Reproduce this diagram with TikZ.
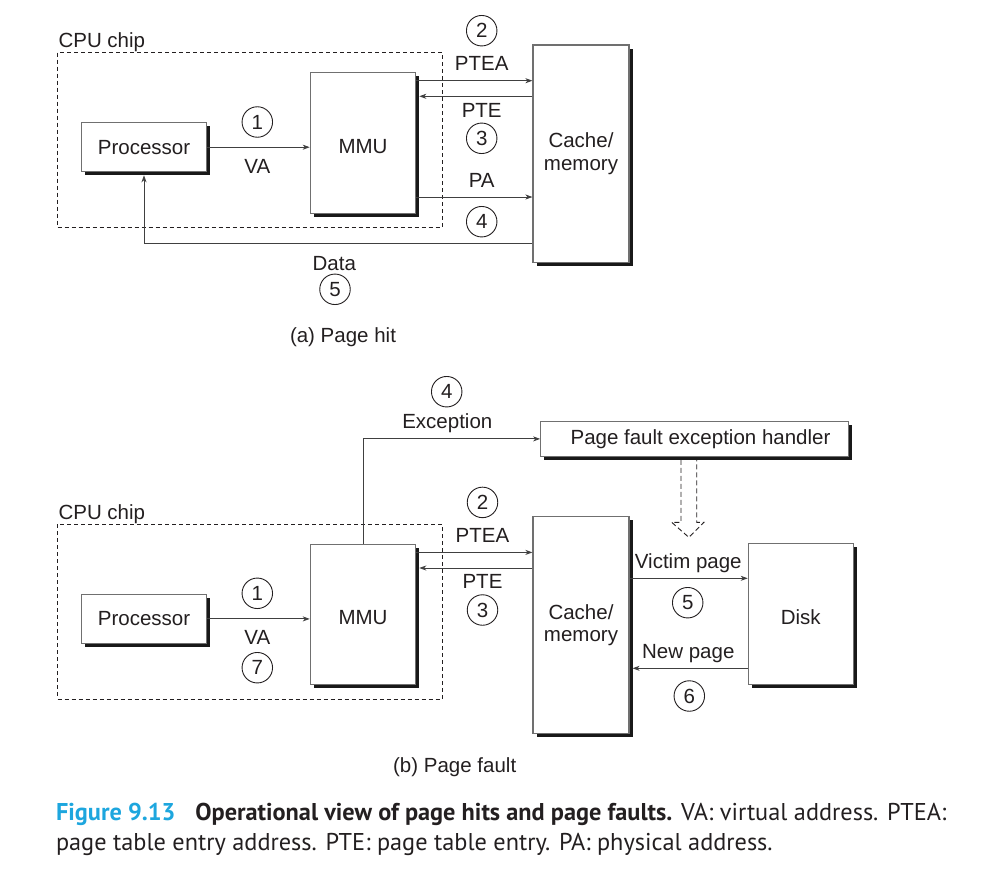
\documentclass[tikz,border=0pt]{standalone}
\usepackage{fontspec}
\setmainfont{Liberation Sans}
\newfontfamily\capfont{PT Sans}
\usetikzlibrary{arrows.meta,shadows}
\definecolor{textdark}{HTML}{231F20}
\definecolor{boxgray}{HTML}{707070}
\definecolor{linegray}{HTML}{404040}
\definecolor{figcyan}{HTML}{1DA6DE}
\tikzset{
  unit/.style={draw=boxgray, line width=1.1pt, fill=white, inner sep=0pt, align=center,
    drop shadow={shadow xshift=3.5pt, shadow yshift=-3.5pt, fill=black!90, opacity=1}},
  tallunit/.style={unit, text height=21pt},
  link/.style={draw=linegray, line width=0.9pt, -{Stealth[length=7pt,width=5pt,inset=2pt]}},
  stepnum/.style={circle, draw=textdark, line width=0.9pt, minimum size=30.5pt, inner sep=0pt},
  chip/.style={draw=textdark, line width=0.8pt, dash pattern=on 4pt off 3pt},
  hollow/.style={draw=textdark, line width=0.9pt, dash pattern=on 5pt off 3pt},
  captext/.style={anchor=base west, font=\capfont\fontsize{24.3}{30}\selectfont}
}
\begin{document}
\begin{tikzpicture}[x=1pt, y=-1pt, font=\fontsize{20.5}{22.5}\selectfont, text=textdark]
\useasboundingbox (0,0) rectangle (982,880);
% (a) page hit
\draw[chip] (57.3,52.7) rectangle (442.3,227.3);
\node[anchor=base west] (chipa) at (55,48) {CPU chip};
\node[unit, minimum width=125.4pt, minimum height=49pt] (proca) at (144,147.2) {Processor};
\node[tallunit, minimum width=105.4pt, minimum height=141pt] (mmua) at (363,142.8) {MMU};
\node[unit, minimum width=96pt, minimum height=217.3pt] (cachea) at (581,153.7) {Cache/\\memory};
\draw[link] (proca.east) -- (mmua.west |- proca.east);
\draw[link] (mmua.east |- 0,80.7) -- (cachea.west |- 0,80.7);
\draw[link, shorten >=3pt] (cachea.west |- 0,96.3) -- (mmua.east |- 0,96.3);
\draw[link] (mmua.east |- 0,197) -- (cachea.west |- 0,197);
\draw[link, shorten >=3pt] (cachea.west |- 0,243.3) -| (proca.south);
\node[stepnum] (s1a) at (257.3,122) {1};
\node (vaa) at (257.3,166) {VA};
\node[stepnum] (s2a) at (481.7,30.7) {2};
\node (pteaa) at (481.7,63.3) {PTEA};
\node (ptea) at (481.7,110) {PTE};
\node[stepnum] (s3a) at (481.7,138.3) {3};
\node (paa) at (481.7,180.7) {PA};
\node[stepnum] (s4a) at (481.7,221.7) {4};
\node (dataa) at (334.3,263.3) {Data};
\node[stepnum] (s5a) at (335,289.3) {5};
\node (tita) at (343,336.7) {(a) Page hit};
% (b) page fault
\draw[chip] (57.3,524.4) rectangle (442.3,699);
\node[anchor=base west] (chipb) at (55,519.7) {CPU chip};
\node[unit, minimum width=125.4pt, minimum height=49pt] (procb) at (144,618.9) {Processor};
\node[tallunit, minimum width=105.4pt, minimum height=140.3pt] (mmub) at (363,614.2) {MMU};
\node[unit, minimum width=96pt, minimum height=216.6pt] (cacheb) at (581,625) {Cache/\\memory};
\node[tallunit, minimum width=105pt, minimum height=141pt] (disk) at (800.8,613.8) {Disk};
\node[unit, minimum width=307.6pt, minimum height=34.3pt] (handler) at (694.5,438.9) {\hspace*{12pt}Page fault exception handler};
\draw[link] (procb.east) -- (mmub.west |- procb.east);
\draw[link] (mmub.east |- 0,552.4) -- (cacheb.west |- 0,552.4);
\draw[link, shorten >=3pt] (cacheb.west |- 0,568) -- (mmub.east |- 0,568);
\draw[link] (mmub.north) |- (handler.west);
\draw[link] (cacheb.east |- 0,578.3) -- (disk.west |- 0,578.3);
\draw[link, shorten >=3pt] (disk.west |- 0,668.3) -- (cacheb.east |- 0,668.3);
\draw[hollow] ([xshift=-13.5pt,yshift=-3.3pt]handler.south) -- ++(0,62.4) -- ++(-9.3,0) -- ++(17.1,15)
  -- ++(15.2,-15) -- ++(-7.3,0) -- ++(0,-62.4);
\node[stepnum] (s1b) at (257.3,593.3) {1};
\node (vab) at (257.3,637.7) {VA};
\node[stepnum] (s7b) at (257.3,667.7) {7};
\node[stepnum] (s4b) at (446.7,391.7) {4};
\node (excb) at (447.3,422.7) {Exception};
\node[stepnum] (s2b) at (482.5,502.4) {2};
\node (pteab) at (482.5,535) {PTEA};
\node (pteb) at (482.5,581.7) {PTE};
\node[stepnum] (s3b) at (482.5,610) {3};
\node (victim) at (688.3,562.7) {Victim page};
\node[stepnum] (s5b) at (687.7,602.7) {5};
\node (newpage) at (688.3,653.3) {New page};
\node[stepnum] (s6b) at (689.3,696) {6};
\node (titb) at (454.7,766.7) {(b) Page fault};
% caption
\node[captext] (cap1) at (52.5,820) {{\bfseries\color{figcyan}Figure 9.13}\hspace{20pt}\textbf{Operational view of page hits and page faults.} VA: virtual address. PTEA:};
\node[captext] (cap2) at (52.5,850) {page table entry address. PTE: page table entry. PA: physical address.};
\end{tikzpicture}
\end{document}
